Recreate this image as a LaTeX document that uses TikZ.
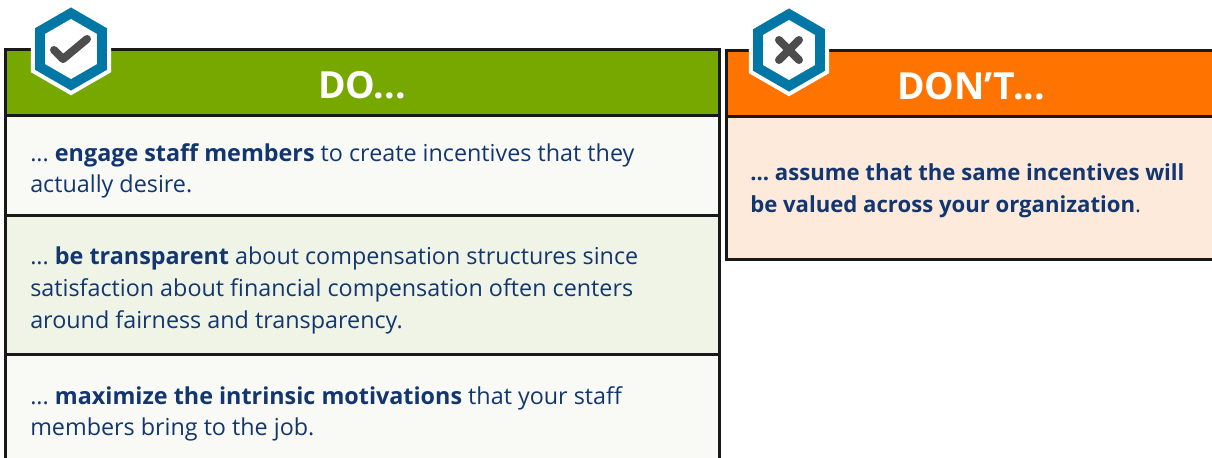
\documentclass[tikz,border=0pt]{standalone}
\usepackage{fontspec}
\setmainfont{Open Sans}
\frenchspacing
\usetikzlibrary{positioning,shapes.geometric}

\definecolor{dogreen}{RGB}{119,168,0}
\definecolor{dontorange}{RGB}{255,115,0}
\definecolor{hexblue}{RGB}{0,119,164}
\definecolor{inkblue}{RGB}{18,54,112}
\definecolor{rowlight}{RGB}{249,250,245}
\definecolor{rowgreen}{RGB}{240,244,230}
\definecolor{rowpeach}{RGB}{253,234,219}
\definecolor{markgrey}{RGB}{77,77,77}

\tikzset{
  panel/.style={draw=black!90, line width=2.25pt, outer sep=0pt, inner sep=0pt,
    minimum width=#1*0.75pt},
  headbox/.style={panel=#1, minimum height=66*0.75pt, text=white,
    text height=25pt, text depth=0pt,
    font=\fontsize{28}{28}\selectfont\bfseries},
  rowbox/.style={panel=714},
  rowtext/.style={anchor=west, align=left, inner sep=0pt, text=inkblue,
    font=\fontsize{17.5}{23.8}\selectfont},
  hexmark/.style={regular polygon, regular polygon sides=6, shape border rotate=30,
    fill=hexblue, draw=white, line width=3pt, minimum size=88*0.75pt, inner sep=0pt},
  hexinner/.style={regular polygon, regular polygon sides=6, shape border rotate=30,
    fill=white, minimum size=60*0.75pt, inner sep=0pt},
  tick/.style={markgrey, line width=6pt, line cap=round, line join=round}
}

\begin{document}
\begin{tikzpicture}[x=0.75pt, y=-0.75pt]
  \useasboundingbox (0,0) rectangle (1212,457);
  \clip (0,0) rectangle (1212,457);

  % left column
  \node[headbox=714, fill=dogreen, anchor=north west] (hdo) at (5,49) {DO...};
  \node[rowbox, fill=rowlight, minimum height=100*0.75pt, below=0pt of hdo] (r1) {};
  \node[rowbox, fill=rowgreen, minimum height=139*0.75pt, below=0pt of r1] (r2) {};
  \node[rowbox, fill=rowlight, minimum height=112*0.75pt, below=0pt of r2] (r3) {};
  \node[rowtext] (t1) at ([shift={(25,6)}]r1.west)
    {... \textbf{engage staff members} to create incentives that they\\
     actually desire.};
  \node[rowtext] (t2) at ([shift={(25,6)}]r2.west)
    {... \textbf{be transparent} about compensation structures since\\
     satisfaction about financial compensation often centers\\
     around fairness and transparency.};
  \node[rowtext] (t3) at ([shift={(25,4)}]r3.west)
    {... \textbf{maximize the intrinsic motivations} that your staff\\
     members bring to the job.};

  % right column
  \node[headbox=490, fill=dontorange, anchor=north west] (hdont) at (726,50) {DON’T...};
  \node[panel=490, fill=rowpeach, minimum height=143*0.75pt, below=0pt of hdont] (r4) {};
  \node[rowtext, font=\fontsize{16.6}{23.8}\selectfont\bfseries] (t4)
    at ([shift={(24,3)}]r4.west)
    {... assume that the same incentives will\\
     be valued across your organization\textmd{.}};

  % badges
  \node[hexmark] (bdo) at (71,49) {};
  \node[hexinner] at (bdo.center) {};
  \draw[tick] ([shift={(-17,1)}]bdo.center) -- ([shift={(-8,10)}]bdo.center)
    -- ([shift={(16,-10)}]bdo.center);

  \node[hexmark] (bdont) at (789,50) {};
  \node[hexinner] at (bdont.center) {};
  \draw[tick] ([shift={(-10,-10)}]bdont.center) -- ([shift={(10,10)}]bdont.center);
  \draw[tick] ([shift={(10,-10)}]bdont.center) -- ([shift={(-10,10)}]bdont.center);
\end{tikzpicture}
\end{document}
